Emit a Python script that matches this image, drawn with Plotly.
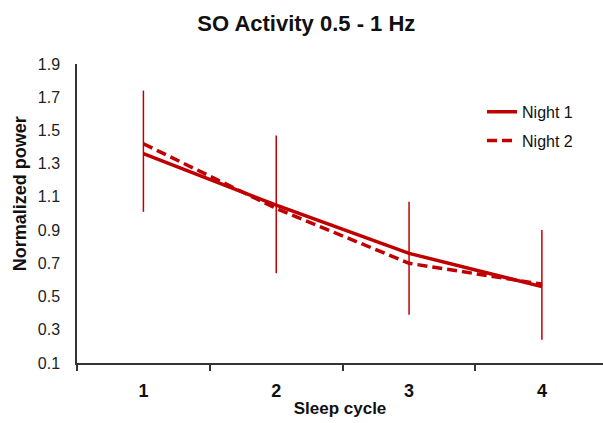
import plotly.graph_objects as go

cycles = [1, 2, 3, 4]
night1 = [1.36, 1.05, 0.76, 0.56]
night2 = [1.42, 1.03, 0.70, 0.575]
err_plus = [0.38, 0.42, 0.31, 0.34]
err_minus = [0.35, 0.41, 0.37, 0.32]
y_ticks = [0.1, 0.3, 0.5, 0.7, 0.9, 1.1, 1.3, 1.5, 1.7, 1.9]

red = "#C00000"
font = "Liberation Sans, Arial, sans-serif"

fig = go.Figure()
fig.add_trace(go.Scatter(
    x=cycles, y=night1, mode="lines", name="Night 1", legendgroup="a",
    line=dict(color=red, width=3.5),
    error_y=dict(type="data", symmetric=False, array=err_plus, arrayminus=err_minus,
                 color=red, thickness=1.5, width=0),
))
fig.add_trace(go.Scatter(
    x=cycles, y=night2, mode="lines", name="Night 2", legendgroup="b",
    line=dict(color=red, width=3.5, dash="10px,5px"),
))

fig.update_layout(
    width=603, height=423,
    margin=dict(l=77, r=0, t=64, b=60),
    paper_bgcolor="white", plot_bgcolor="white",
    font=dict(family=font, color="#222"),
    title=dict(text="<b>SO Activity 0.5 - 1 Hz</b>", x=0.508, xanchor="center",
               y=0.945, yanchor="middle", font=dict(size=22, color="#111")),
    showlegend=True,
    legend=dict(x=0.77, y=0.897, xanchor="left", yanchor="top",
                font=dict(size=16, color="#111"), tracegroupgap=5,
                bgcolor="rgba(0,0,0,0)"),
    xaxis=dict(
        range=[0.5, 4.46], showline=True, linecolor="#333", linewidth=1.5,
        showgrid=False, zeroline=False,
        tickvals=cycles, ticktext=["<b>%d</b>" % c for c in cycles],
        ticks="outside", ticklen=11, tickcolor="rgba(0,0,0,0)",
        tickfont=dict(size=18, color="#111"),
        minor=dict(tickvals=[0.5, 1.5, 2.5, 3.5], ticks="outside", ticklen=6,
                   tickcolor="#333", tickwidth=1.5, showgrid=False),
        title=dict(text="<b>Sleep cycle</b>", font=dict(size=17, color="#111"), standoff=2),
    ),
    yaxis=dict(
        range=[0.1, 1.9], showline=True, linecolor="#333", linewidth=1.5,
        showgrid=False, zeroline=False,
        tickvals=y_ticks, ticktext=["%.1f" % v for v in y_ticks],
        ticks="outside", ticklen=12, tickcolor="rgba(0,0,0,0)",
        tickfont=dict(size=16, color="#222"),
    ),
    annotations=[dict(
        text="<b>Normalized power</b>", textangle=-90, showarrow=False,
        xref="paper", yref="paper", x=-0.108, y=0.565,
        xanchor="center", yanchor="middle", font=dict(size=18, color="#111"),
    )],
)

fig.write_html("out.html")
